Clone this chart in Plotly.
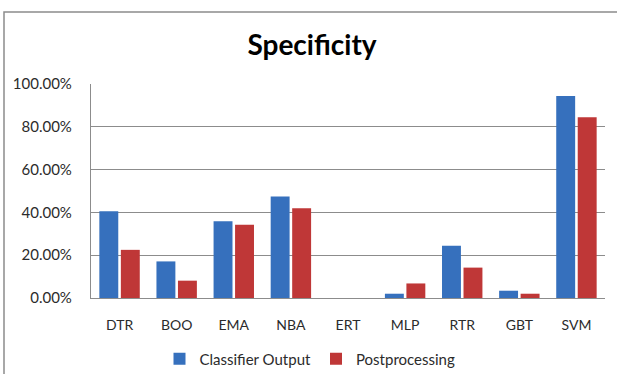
import plotly.graph_objects as go

categories = ["DTR", "BOO", "EMA", "NBA", "ERT", "MLP", "RTR", "GBT", "SVM"]
classifier_output = [0.405, 0.171, 0.359, 0.474, 0.0, 0.020, 0.244, 0.034, 0.944]
postprocessing = [0.225, 0.081, 0.342, 0.419, 0.0, 0.068, 0.142, 0.020, 0.845]
y_ticks = [0, 0.2, 0.4, 0.6, 0.8, 1.0]

FONT = "Lato, 'Open Sans', sans-serif"

fig = go.Figure()
fig.add_trace(go.Bar(
    x=categories, y=classifier_output, name="Classifier Output",
    marker=dict(color="#3670BD", line=dict(width=0)),
))
fig.add_trace(go.Bar(
    x=categories, y=postprocessing, name="Postprocessing",
    marker=dict(color="#BF3737", line=dict(width=0)),
))

fig.update_layout(
    width=617, height=374,
    margin=dict(l=91, r=12, t=84, b=76, autoexpand=False),
    paper_bgcolor="white", plot_bgcolor="white",
    barmode="group", bargap=0.247, bargroupgap=0.12,
    font=dict(family=FONT, size=14, color="#2b2b2b"),
    title=dict(text="<b>Specificity</b>", x=312 / 617, xref="container", xanchor="center",
               y=1 - 45 / 374, yref="container", yanchor="middle",
               font=dict(family=FONT, size=28, color="#000000")),
    showlegend=True,
    legend=dict(orientation="h", x=310 / 617, xref="container", xanchor="center",
                y=1 - 359 / 374, yref="container", yanchor="middle",
                font=dict(family=FONT, size=15, color="#2b2b2b"),
                traceorder="normal"),
    xaxis=dict(showgrid=False, showline=True, linecolor="#8C8C8C", linewidth=1.2,
               ticks="", ticklabelstandoff=14, tickfont=dict(size=14),
               automargin=False),
    yaxis=dict(range=[0, 1.0], tickvals=y_ticks, tickformat=".2%",
               showgrid=True, gridcolor="#8C8C8C", gridwidth=1,
               showline=True, linecolor="#8C8C8C", linewidth=1.2,
               zeroline=False, ticks="", ticklabelstandoff=15,
               tickfont=dict(size=15), automargin=False),
    shapes=[
        dict(type="rect", xref="paper", yref="paper",
             x0=(4 - 91) / 514, x1=2.0, y0=-2.0, y1=(298 - 12) / 214,
             line=dict(color="#8C8C8C", width=1.5), layer="below"),
    ],
)

fig.write_html(
    "out.html",
    config={"displayModeBar": False},
    post_script="document.body.style.margin='0';document.body.style.overflow='hidden';",
)
